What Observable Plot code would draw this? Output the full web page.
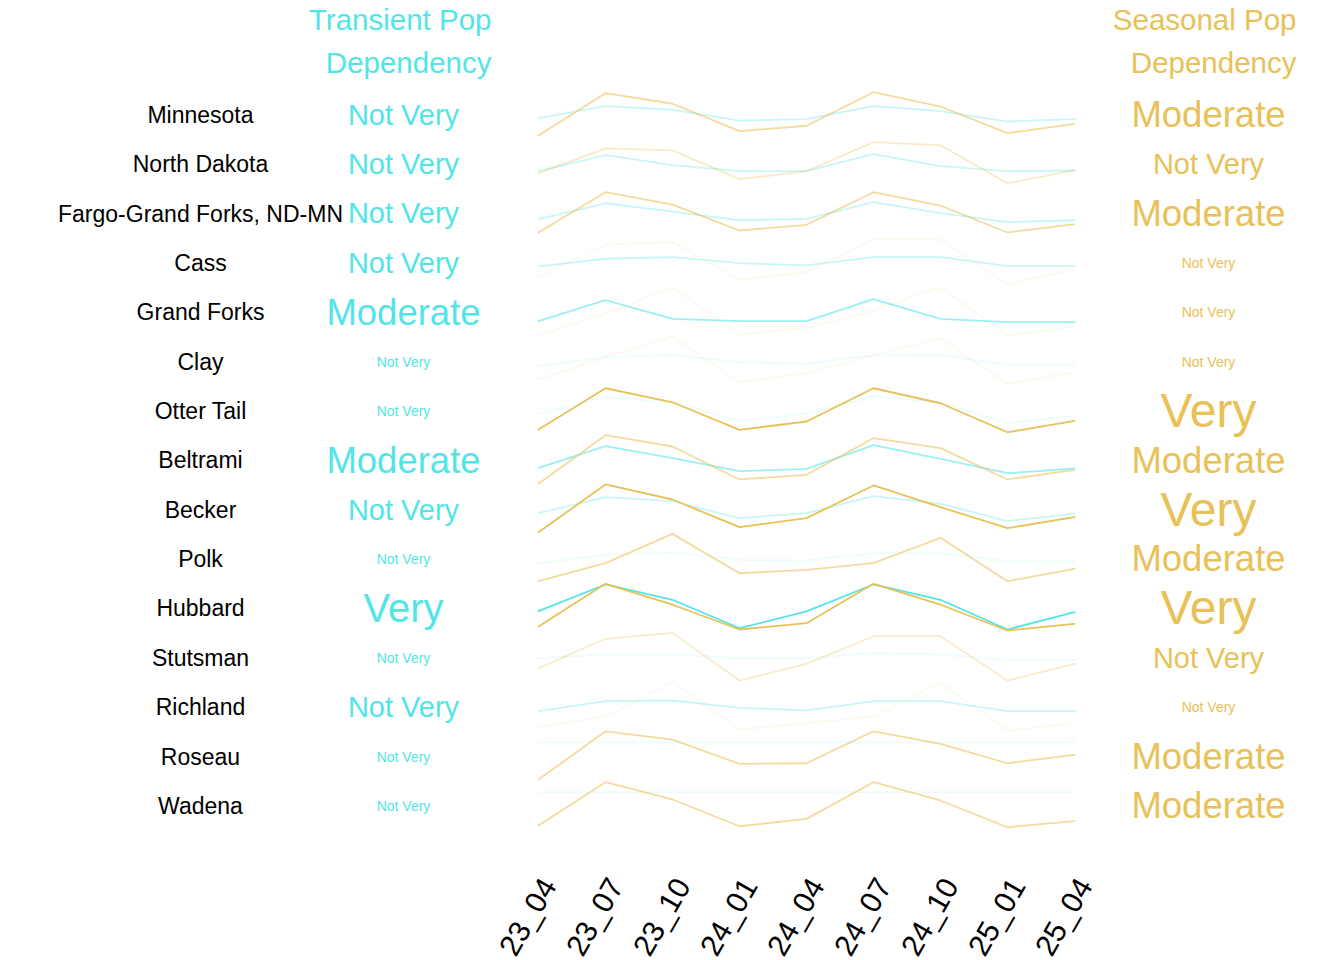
<!DOCTYPE html>
<html>
<head>
<meta charset="utf-8">
<script src="https://cdn.jsdelivr.net/npm/d3@7"></script>
<script src="https://cdn.jsdelivr.net/npm/@observablehq/plot@0.6"></script>
<style>
  html, body { margin: 0; padding: 0; background: #ffffff; }
  #chart svg { display: block; overflow: visible; }
</style>
</head>
<body>
<div id="chart"></div>
<script>
// ---------- data ----------
const quarters = ["23_04","23_07","23_10","24_01","24_04","24_07","24_10","25_01","25_04"];

const regions = ["Minnesota","North Dakota","Fargo-Grand Forks, ND-MN","Cass","Grand Forks","Clay",
  "Otter Tail","Beltrami","Becker","Polk","Hubbard","Stutsman","Richland","Roseau","Wadena"];

const transientLabel = ["Not Very","Not Very","Not Very","Not Very","Moderate","Not Very","Not Very",
  "Moderate","Not Very","Not Very","Very","Not Very","Not Very","Not Very","Not Very"];
// emphasis of the dependency rating (0 = minimal ... 3 = strongest)
const transientRank = [1,1,1,1,2,0,0,2,1,0,3,0,1,0,0];

const seasonalLabel = ["Moderate","Not Very","Moderate","Not Very","Not Very","Not Very","Very",
  "Moderate","Very","Moderate","Very","Not Very","Not Very","Moderate","Moderate"];
const seasonalRank = [2,1,2,0,0,0,3,2,3,2,3,1,0,2,2];

// population index per quarter (relative level within each region's row)
const transientIndex = [
  [-0.27, 0.94, 0.58,-0.51,-0.37, 0.94, 0.44,-0.61,-0.37],
  [-0.64, 0.98,-0.03,-0.64,-0.64, 1.08,-0.13,-0.64,-0.57],
  [-0.51, 1.11, 0.27,-0.61,-0.47, 1.22, 0.10,-0.81,-0.61],
  [-0.29, 0.49, 0.65, 0.04,-0.19, 0.65, 0.65,-0.26,-0.26],
  [-0.84, 1.29,-0.60,-0.84,-0.84, 1.39,-0.60,-0.94,-0.94],
  [-0.40, 0.52, 0.76, 0.01,-0.15, 0.69, 0.76,-0.25,-0.25],
  [-0.22, 1.46, 0.95,-0.97,-0.22, 1.56, 0.95,-1.18,-0.40],
  [-0.69, 1.50, 0.28,-1.03,-0.79, 1.60, 0.22,-1.24,-0.76],
  [-0.28, 1.34, 0.93,-0.79,-0.28, 1.44, 0.67,-1.09,-0.34],
  [-0.35, 0.50, 0.76,-0.01,-0.08, 0.66, 0.66,-0.18,-0.18],
  [-0.21, 2.49, 0.94,-1.94,-0.24, 2.49, 0.94,-2.07,-0.31],
  [ 0.02, 0.40, 0.40, 0.02, 0.02, 0.53, 0.40,-0.14,-0.14],
  [-0.34, 0.67, 0.74, 0.00,-0.27, 0.67, 0.67,-0.34,-0.34],
  [ 1.51, 1.51, 1.51, 1.51, 1.51, 1.51, 1.51, 1.51, 1.51],
  [ 1.45, 1.45, 1.45, 1.45, 1.45, 1.45, 1.45, 1.45, 1.45]
];

const seasonalIndex = [
  [-2.03, 2.26, 1.19,-1.59,-1.04, 2.36, 0.91,-1.79,-0.84],
  [-0.84, 1.66, 1.46,-1.45,-0.64, 2.30, 1.97,-1.86,-0.57],
  [-1.85, 2.23, 0.98,-1.65,-1.07, 2.23, 0.88,-1.85,-1.01],
  [-1.31, 1.93, 2.17,-1.64,-0.87, 2.44, 2.44,-2.12,-0.53],
  [-2.29,-0.09, 2.60,-2.19,-1.51, 0.24, 2.60,-2.29,-1.38],
  [-1.74, 0.52, 2.61,-2.02,-1.10, 0.69, 2.44,-2.18,-1.00],
  [-1.81, 2.37, 0.95,-1.84,-1.00, 2.37, 0.85,-2.09,-0.93],
  [-2.31, 2.61, 1.47,-1.87,-1.40, 2.31, 1.30,-1.87,-0.89],
  [-2.21, 2.62, 1.10,-1.70,-0.79, 2.52, 0.32,-1.80,-0.69],
  [-2.18,-0.35, 2.62,-1.37,-1.02,-0.35, 2.22,-2.18,-0.92],
  [-1.76, 2.56, 0.44,-2.07,-1.43, 2.56, 0.44,-2.17,-1.49],
  [-0.99, 1.99, 2.59,-2.24,-0.55, 2.25, 2.25,-2.24,-0.55],
  [-1.97,-0.88, 2.59,-2.20,-1.56,-0.88, 2.53,-2.30,-1.56],
  [-2.27, 2.62, 1.78,-0.68,-0.62, 2.62, 1.35,-0.62, 0.23],
  [-1.92, 2.46, 0.71,-2.00,-1.25, 2.46, 0.61,-2.10,-1.49]
];

// ---------- styles ----------
const CYAN = "#52E5E7";
const GOLD = "#E8C157";
const FONT = "'Liberation Sans', Arial, Helvetica, sans-serif";
const ROW = 5;                               // vertical spacing between regions (y units)
const opacityByRank = [0.1, 0.32, 0.58, 1];
const transientSize = [14, 29, 36.5, 40];
const seasonalSize  = [14, 29, 36.5, 48];

// ---------- build tidy tables ----------
const rowY = i => -i * ROW;
const lineMarks = [];
regions.forEach((r, i) => {
  const t = quarters.map((q, k) => ({q, y: rowY(i) + transientIndex[i][k]}));
  const s = quarters.map((q, k) => ({q, y: rowY(i) + seasonalIndex[i][k]}));
  lineMarks.push(Plot.line(t, {x: "q", y: "y", stroke: CYAN, strokeWidth: 1.8,
    strokeOpacity: opacityByRank[transientRank[i]]}));
  lineMarks.push(Plot.line(s, {x: "q", y: "y", stroke: GOLD, strokeWidth: 1.8,
    strokeOpacity: opacityByRank[seasonalRank[i]]}));
});

const rows = regions.map((r, i) => ({
  region: r, y: rowY(i),
  tLabel: transientLabel[i], tRank: transientRank[i],
  sLabel: seasonalLabel[i], sRank: seasonalRank[i]
}));

const chart = Plot.plot({
  width: 1344,
  height: 960,
  marginLeft: 537,
  marginRight: 270,
  marginTop: 65.64,
  marginBottom: 104.64,
  x: {type: "point", domain: quarters, padding: 0, axis: null},
  y: {domain: [-75, 5], axis: null},
  style: {fontFamily: FONT, background: "#ffffff", color: "black"},
  marks: [
    ...lineMarks,
    // region names
    Plot.text(rows, {y: "y", text: "region", frameAnchor: "left", dx: -337,
      textAnchor: "middle", fontSize: 23, fill: "black"}),
    // transient dependency labels
    Plot.text(rows, {y: "y", text: "tLabel", frameAnchor: "left", dx: -134,
      textAnchor: "middle", fontSize: d => transientSize[d.tRank], fill: CYAN}),
    // seasonal dependency labels
    Plot.text(rows, {y: "y", text: "sLabel", frameAnchor: "right", dx: 134,
      textAnchor: "middle", fontSize: d => seasonalSize[d.sRank], fill: GOLD}),
    // column headers
    Plot.text(["Transient Pop"], {frameAnchor: "top-left", dx: -46, dy: -57,
      textAnchor: "end", fontSize: 29.5, fill: CYAN}),
    Plot.text(["Dependency"], {frameAnchor: "top-left", dx: -46, dy: -14,
      textAnchor: "end", fontSize: 29.5, fill: CYAN}),
    Plot.text(["Seasonal Pop"], {frameAnchor: "top-right", dx: 222, dy: -57,
      textAnchor: "end", fontSize: 29.5, fill: GOLD}),
    Plot.text(["Dependency"], {frameAnchor: "top-right", dx: 222, dy: -14,
      textAnchor: "end", fontSize: 29.5, fill: GOLD}),
    // quarter tick labels
    Plot.text(quarters, {x: d => d, frameAnchor: "bottom", dx: 19, dy: 30,
      rotate: -60, textAnchor: "end", fontSize: 30, fill: "black"})
  ]
});

document.getElementById("chart").appendChild(chart);
</script>
</body>
</html>
